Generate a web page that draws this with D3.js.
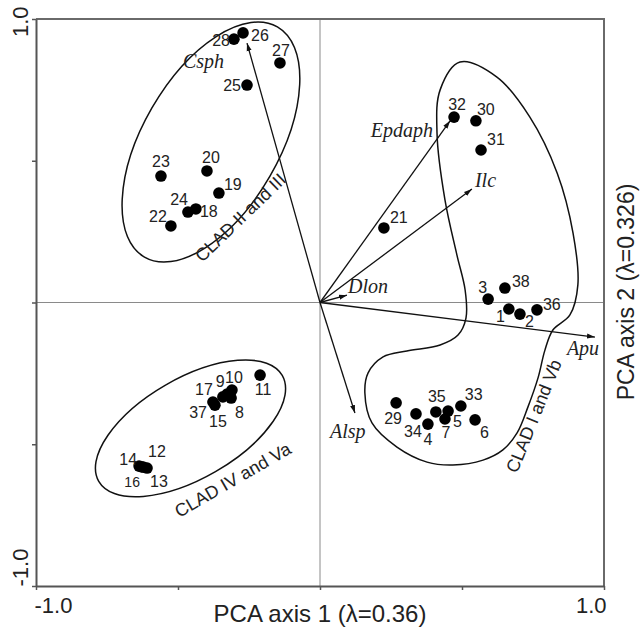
<!DOCTYPE html>
<html>
<head>
<meta charset="utf-8">
<script src="https://cdn.jsdelivr.net/npm/d3@7"></script>
<style>
body { margin: 0; background: #fff; }
text { font-family: "Liberation Sans", Arial, sans-serif; fill: #222; }
.var { font-family: "Liberation Serif", "Times New Roman", serif; font-style: italic; }
</style>
</head>
<body>
<div id="chart"></div>
<script>
// sample scores on the two PCA axes
var ids = [1,2,3,4,5,6,7,8,9,10,11,12,13,14,15,16,17,18,19,20,21,22,23,24,25,26,27,28,29,30,31,32,33,34,35,36,37,38];
var pc1 = [0.665,0.704,0.592,0.380,0.451,0.546,0.440,-0.313,-0.327,-0.310,-0.211,-0.623,-0.609,-0.637,-0.370,-0.627,-0.342,-0.437,-0.356,-0.398,
           0.225,-0.525,-0.560,-0.465,-0.257,-0.271,-0.141,-0.303,0.268,0.549,0.567,0.472,0.496,0.338,0.408,0.764,-0.377,0.651];
var pc2 = [-0.023,-0.041,0.012,-0.429,-0.383,-0.414,-0.411,-0.337,-0.323,-0.309,-0.256,-0.580,-0.584,-0.577,-0.362,-0.580,-0.333,0.330,0.386,0.464,
           0.263,0.270,0.446,0.319,0.767,0.951,0.845,0.929,-0.354,0.641,0.538,0.654,-0.365,-0.393,-0.386,-0.026,-0.351,0.051];

// variable loadings (arrows)
var varNames = ["Csph","Epdaph","Ilc","Dlon","Apu","Alsp"];
var varX = [-0.257,0.458,0.535,0.095,0.968,0.123];
var varY = [0.915,0.641,0.400,0.026,-0.122,-0.390];

// axis ticks
var tickVals = [-1,-0.5,0,0.5,1];
var tickLabels = {"-1": "-1.0", "1": "1.0"};

// group outlines
var ellNames = ["CLAD II and III","CLAD IV and Va"];
var ellCx = [-0.384,-0.456];
var ellCy = [0.566,-0.444];
var ellA = [0.468,0.373];
var ellB = [0.240,0.176];
var ellAngle = [60,30];

var hullX = [0.493,0.623,0.739,0.835,0.891,0.908,0.880,0.820,0.792,0.768,0.732,0.694,0.644,0.574,0.468,0.377,0.271,0.183,0.158,0.169,
             0.222,0.306,0.423,0.486,0.514,0.511,0.482,0.440,0.412,0.423];
var hullY = [0.848,0.795,0.654,0.457,0.245,0.062,-0.044,-0.097,-0.168,-0.265,-0.369,-0.460,-0.520,-0.556,-0.573,-0.563,-0.510,-0.425,-0.319,-0.249,
             -0.192,-0.171,-0.150,-0.115,-0.055,0.044,0.168,0.362,0.598,0.750];

// label placement (anchor, dx, dy in px)
var labelPos = {
  1:["end",-4,13], 2:["start",5,13], 3:["end",-1,-6], 4:["middle",0,21], 5:["start",5,16], 6:["start",5,18],
  7:["middle",1,19], 8:["start",4,20], 9:["middle",-7,-7], 10:["middle",2,-7], 11:["middle",3,20], 12:["start",5,-10],
  13:["start",3,19], 14:["end",-2,-1], 15:["middle",3,22], 16:["end",-2,20], 17:["end",-10,-2], 18:["start",4,8],
  19:["start",5,-3], 20:["middle",4,-8], 21:["start",6,-5], 22:["end",-4,-4], 23:["middle",0,-9], 24:["end",0,-7],
  25:["end",-6,6], 26:["start",8,8], 27:["middle",1,-7], 28:["end",-4,7], 29:["middle",-3,21], 30:["start",1,-6],
  31:["start",6,-5], 32:["middle",3,-7], 33:["start",4,-6], 34:["middle",-3,23], 35:["middle",1,-10], 36:["start",6,0],
  37:["end",-6,16], 38:["start",7,-1]
};
var varLabelPos = {Csph:["start",-64,25], Epdaph:["end",-17,16], Ilc:["start",3,-2], Dlon:["start",1,-2], Apu:["start",-28,18], Alsp:["start",-25,25]};

var width = 644, height = 628;
var margin = {top: 19, right: 40, bottom: 42, left: 36};

var svg = d3.select("#chart")
    .append("svg")
    .attr("width", width)
    .attr("height", height);

var x = d3.scaleLinear().domain([-1, 1]).range([margin.left, width - margin.right]);
var y = d3.scaleLinear().domain([-1, 1]).range([height - margin.bottom, margin.top]);
var unit = x(1) - x(0);

// center lines
svg.append("line")
    .attr("x1", x(0)).attr("x2", x(0)).attr("y1", y(1)).attr("y2", y(-1))
    .style("stroke", "#8a8a8a").style("stroke-width", 1);
svg.append("line")
    .attr("x1", x(-1)).attr("x2", x(1)).attr("y1", y(0)).attr("y2", y(0))
    .style("stroke", "#8a8a8a").style("stroke-width", 1);

// top and right frame
svg.append("path")
    .attr("d", "M" + x(-1) + "," + y(1) + "H" + x(1) + "V" + y(-1))
    .style("fill", "none").style("stroke", "#6a6a6a").style("stroke-width", 2);

// axes
var xAxis = svg.append("g")
    .attr("transform", "translate(0," + y(-1) + ")")
    .call(d3.axisBottom(x).tickValues(tickVals).tickSize(4).tickSizeOuter(0)
        .tickFormat(function(d) { return tickLabels[d] || ""; }));
xAxis.selectAll("text")
    .style("font-size", "22px")
    .attr("y", 11)
    .attr("text-anchor", function(d) { return d < 0 ? "start" : "end"; })
    .attr("dx", function(d) { return d < 0 ? -2 : 2; });

var yAxis = svg.append("g")
    .attr("transform", "translate(" + x(-1) + ",0)")
    .call(d3.axisLeft(y).tickValues(tickVals).tickSize(4).tickSizeOuter(0)
        .tickFormat(function(d) { return tickLabels[d] || ""; }));
yAxis.selectAll("text")
    .style("font-size", "22px")
    .attr("x", 0).attr("dy", 0)
    .attr("text-anchor", function(d) { return d < 0 ? "start" : "end"; })
    .attr("transform", function(d) { return "translate(-8," + (d < 0 ? 0 : -13) + ") rotate(-90)"; });

svg.selectAll(".domain").style("stroke", "#555").style("stroke-width", 2);
svg.selectAll(".tick line").style("stroke", "#555").style("stroke-width", 1.5);

// axis titles
svg.append("text")
    .attr("x", x(0)).attr("y", 622)
    .attr("text-anchor", "middle")
    .style("font-size", "24px")
    .text("PCA axis 1 (λ=0.36)");
svg.append("text")
    .attr("transform", "translate(634,292) rotate(-90)")
    .attr("text-anchor", "middle")
    .style("font-size", "23px")
    .text("PCA axis 2 (λ=0.326)");

// group ellipses
ellNames.forEach(function(n, i) {
    var cx = x(ellCx[i]), cy = y(ellCy[i]);
    svg.append("ellipse")
        .attr("cx", cx).attr("cy", cy)
        .attr("rx", ellA[i] * unit).attr("ry", ellB[i] * unit)
        .attr("transform", "rotate(" + (-ellAngle[i]) + "," + cx + "," + cy + ")")
        .style("fill", "none").style("stroke", "#111").style("stroke-width", 1.5);
});

// hull for CLAD I and Vb
var hull = d3.line()
    .x(function(d) { return x(d[0]); })
    .y(function(d) { return y(d[1]); })
    .curve(d3.curveCatmullRomClosed);
svg.append("path")
    .attr("d", hull(hullX.map(function(v, i) { return [v, hullY[i]]; })))
    .style("fill", "none").style("stroke", "#111").style("stroke-width", 1.5);

// group labels
var groupLabels = [
    {t: "CLAD II and III", px: -0.415, py: 0.139, a: -44},
    {t: "CLAD IV and Va", px: -0.496, py: -0.760, a: -30},
    {t: "CLAD I and Vb", px: 0.694, py: -0.605, a: -68}
];
svg.selectAll(".glabel")
    .data(groupLabels)
    .enter().append("text")
    .attr("class", "glabel")
    .attr("transform", function(d) { return "translate(" + x(d.px) + "," + y(d.py) + ") rotate(" + d.a + ")"; })
    .style("font-size", "18px")
    .text(function(d) { return d.t; });

// arrows
svg.append("defs").append("marker")
    .attr("id", "arrow")
    .attr("viewBox", "0 -3 8 6")
    .attr("refX", 8).attr("refY", 0)
    .attr("markerUnits", "userSpaceOnUse")
    .attr("markerWidth", 8).attr("markerHeight", 6)
    .attr("orient", "auto")
    .append("path")
    .attr("d", "M0,-2.5L8,0L0,2.5Z")
    .style("fill", "#111");

svg.selectAll(".arrow")
    .data(varNames)
    .enter().append("line")
    .attr("class", "arrow")
    .attr("x1", x(0)).attr("y1", y(0))
    .attr("x2", function(d, i) { return x(varX[i]); })
    .attr("y2", function(d, i) { return y(varY[i]); })
    .attr("marker-end", "url(#arrow)")
    .style("stroke", "#111").style("stroke-width", 1.3);

svg.selectAll(".var")
    .data(varNames)
    .enter().append("text")
    .attr("class", "var")
    .attr("x", function(d, i) { return x(varX[i]) + varLabelPos[d][1]; })
    .attr("y", function(d, i) { return y(varY[i]) + varLabelPos[d][2]; })
    .attr("text-anchor", function(d) { return varLabelPos[d][0]; })
    .style("font-size", "20px")
    .text(function(d) { return d; });

// points
svg.selectAll(".pt")
    .data(ids)
    .enter().append("circle")
    .attr("class", "pt")
    .attr("cx", function(d, i) { return x(pc1[i]); })
    .attr("cy", function(d, i) { return y(pc2[i]); })
    .attr("r", 5.8)
    .style("fill", "#000");

svg.selectAll(".plabel")
    .data(ids)
    .enter().append("text")
    .attr("class", "plabel")
    .attr("x", function(d, i) { return x(pc1[i]) + labelPos[d][1]; })
    .attr("y", function(d, i) { return y(pc2[i]) + labelPos[d][2]; })
    .attr("text-anchor", function(d) { return labelPos[d][0]; })
    .style("font-size", function(d) { return d === 16 ? "14px" : "16px"; })
    .text(function(d) { return d; });
</script>
</body>
</html>
